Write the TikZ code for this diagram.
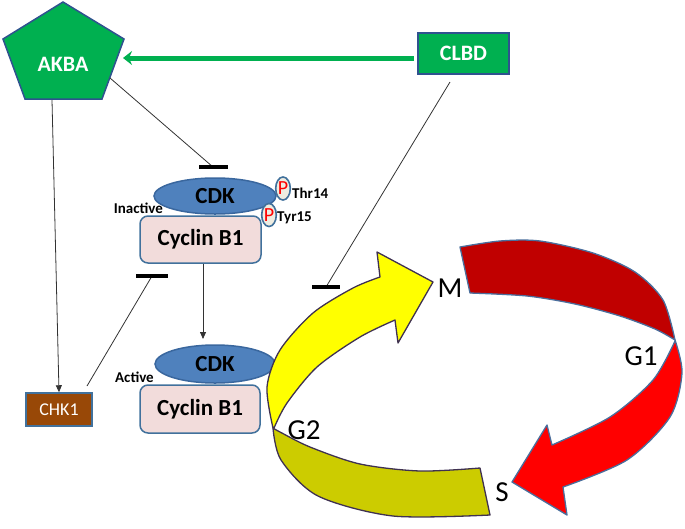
\documentclass[tikz,border=0pt]{standalone}
\usepackage{fontspec}
\setmainfont{Carlito}
\usetikzlibrary{arrows.meta,shapes.geometric}
\definecolor{grn}{HTML}{00B050}
\definecolor{dkblue}{HTML}{2F528F}
\definecolor{cdkblue}{HTML}{4F81BD}
\definecolor{cdkline}{HTML}{3A679E}
\definecolor{pinkfill}{HTML}{F2DCDB}
\definecolor{boxline}{HTML}{41719C}
\definecolor{pfill}{HTML}{EEECE1}
\definecolor{chkbrown}{HTML}{984807}
\definecolor{yel}{HTML}{FFFF00}
\definecolor{dyel}{HTML}{CCCC00}
\definecolor{purp}{HTML}{3F3151}
\definecolor{dred}{HTML}{C00000}
\definecolor{rred}{HTML}{FF0000}
\definecolor{redline}{HTML}{4A6E9C}
\begin{document}
\begin{tikzpicture}[x=1pt,y=-1pt,
  greenbox/.style={draw=dkblue,line width=1.5pt,fill=grn,text=white,font=\fontsize{22}{26}\selectfont\bfseries},
  cdkshape/.style={ellipse,draw=cdkline,line width=1.5pt,fill=cdkblue,minimum width=122,minimum height=36,inner sep=0pt,font=\fontsize{23}{27}\selectfont\bfseries},
  cycbox/.style={rectangle,rounded corners=8pt,draw=boxline,line width=1.5pt,fill=pinkfill,minimum width=121,minimum height=47,font=\fontsize{23}{27}\selectfont\bfseries},
  pcirc/.style={ellipse,draw=boxline,line width=1.6pt,fill=pfill,minimum width=14,minimum height=23,inner sep=0pt,text=red,font=\fontsize{20}{22}\selectfont},
  smalllbl/.style={font=\fontsize{15}{17}\selectfont\bfseries,inner sep=0pt},
  phase/.style={font=\fontsize{29}{32}\selectfont,inner sep=0pt},
  conn/.style={line width=0.8pt,draw=black!80},
  arr/.style={conn,-{Triangle[length=7pt,width=6pt]}},
  inhbar/.style={line width=4pt},
  yband/.style={draw=purp,line width=1.3pt,line join=round},
  rband/.style={draw=redline,line width=1.3pt,line join=round}]
\useasboundingbox (0,0) rectangle (685,528);

% AKBA pentagon
\draw[draw=dkblue,line width=1.5pt,fill=grn] (63,2) -- (124,39) -- (102,99) -- (25,99) -- (3,39) -- cycle;
\node[text=white,font=\fontsize{22}{26}\selectfont\bfseries] (akba) at (63,64) {AKBA};

% CLBD
\node[greenbox,rectangle,minimum width=91,minimum height=41] (clbd) at (463.5,53.5) {CLBD};

% named connector points
\coordinate (clbdout) at (414,58);
\coordinate (akbain) at (123,58);
\coordinate (akbaout1) at (110,78);
\coordinate (bar1) at (213,167);
\coordinate (akbaout2) at (52,100);
\coordinate (clbdout2) at (450,82);
\coordinate (bar3) at (326,287);
\coordinate (chkout) at (87,386);
\coordinate (bar2) at (152,276);

% green arrow
\draw[line width=5pt,grn,-{Stealth[length=9pt,width=14pt,inset=3pt]}] (clbdout) -- (akbain);

% inactive complex
\node[cycbox] (cyc1) at (200.5,239.5) {Cyclin B1};
\node[cdkshape] (cdk1) at (215,196) {CDK};
\node[pcirc] (p1) at (283,188.5) {P};
\node[pcirc] (p2) at (269,215) {P};
\node[smalllbl,anchor=west] (thr) at (292,193) {Thr14};
\node[smalllbl,anchor=west] (tyr) at (277,218) {Tyr15};
\node[smalllbl,anchor=east] (inact) at (163,208) {Inactive};

% active complex
\node[cycbox,minimum width=120,minimum height=48] (cyc2) at (200,409) {Cyclin B1};
\node[cdkshape,minimum width=120,minimum height=38] (cdk2) at (215,364) {CDK};
\node[smalllbl,anchor=east] (act) at (154,377) {Active};

% CHK1
\node[rectangle,draw=boxline,line width=1.5pt,fill=chkbrown,text=white,minimum width=66,minimum height=33,font=\fontsize{18}{20}\selectfont] (chk1) at (59,409.5) {CHK1};

% connectors
\draw[conn] (akbaout1) -- (bar1);
\draw[inhbar] (199,167) -- (228,167);
\draw[arr] (akbaout2) -- (chk1.north);
\draw[conn] (chkout) -- (bar2);
\draw[inhbar] (136,276) -- (168,276);
\draw[arr] (cyc1.south -| 203,0) -- (203,339);
\draw[conn] (clbdout2) -- (bar3);
\draw[inhbar] (312,287) -- (340,287);

% cell cycle: yellow lower band
\draw[yband,fill=dyel] plot[smooth] coordinates {(273,428) (281,460) (318,496) (393,516) (490,515)}
  -- (480,468) -- plot[smooth] coordinates {(480,468) (420,471) (360,464) (310,447) (280,432) (273,428)} -- cycle;
% yellow upper arrow
\draw[yband,fill=yel] plot[smooth] coordinates {(273,428) (267,387) (280,350) (313,313) (353,288) (380,277)}
  -- (377,252) -- (433,282) -- (398,343) -- (395,320)
  -- plot[smooth] coordinates {(395,320) (360,337) (317,367) (287,403) (274,428)} -- cycle;
% red upper band
\draw[rband,fill=dred] plot[smooth] coordinates {(460,247) (500,241) (540,241) (593,253) (635,272) (663,300) (675,340)}
  -- plot[smooth] coordinates {(675,340) (655,329) (620,316) (575,304) (527,296) (470,293)} -- cycle;
% red lower arrow
\draw[rband,fill=rred] plot[smooth] coordinates {(675,340) (682,373) (670,417) (627,460) (563,487)}
  -- (567,515) -- (512,482) -- (547,425) -- (552,445)
  -- plot[smooth] coordinates {(552,445) (610,417) (653,380) (675,341)} -- cycle;

% phase labels
\node[phase] (lm) at (450,288) {M};
\node[phase] (lg1) at (641,356) {G1};
\node[phase] (lg2) at (304,430) {G2};
\node[phase] (ls) at (502,492) {S};
\end{tikzpicture}
\end{document}
